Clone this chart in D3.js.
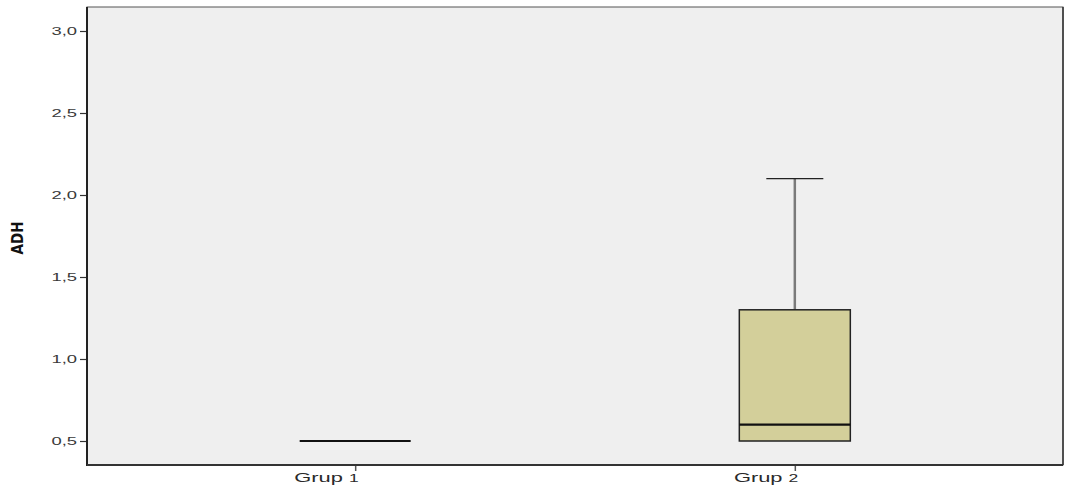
<!DOCTYPE html>
<html>
<head>
<meta charset="utf-8">
<script src="https://cdn.jsdelivr.net/npm/d3@7"></script>
<style>
  html, body { margin: 0; padding: 0; background: #ffffff; }
  svg { display: block; }
</style>
</head>
<body>
<svg id="chart" width="1067" height="493"></svg>
<script>
// Box plot summary per group: whisker low, Q1, median, Q3, whisker high
const groups = ["Grup 1", "Grup 2"];
const whiskerLow = [0.5, 0.5];
const q1 = [0.5, 0.5];
const median = [0.5, 0.6];
const q3 = [0.5, 1.3];
const whiskerHigh = [0.5, 2.1];
const yTicks = [0.5, 1.0, 1.5, 2.0, 2.5, 3.0];
const yLabel = "ADH";

const svg = d3.select("#chart");
const plot = { left: 87, top: 7, right: 1063, bottom: 465 };

const y = d3.scaleLinear()
  .domain([0.5 - 24 / 164, 3.0 + 24 / 164])
  .range([plot.bottom, plot.top]);

const x = d3.scalePoint()
  .domain(groups)
  .range([plot.left, plot.right])
  .padding(0.61);

const boxWidth = 111;
const capWidth = 57;
const labelFont = "'Liberation Sans', Arial, sans-serif";

// Plot background
svg.append("rect")
  .attr("x", plot.left).attr("y", plot.top)
  .attr("width", plot.right - plot.left).attr("height", plot.bottom - plot.top)
  .attr("fill", "#efefef")
  .attr("stroke", "#555").attr("stroke-width", 1);

// Boxes
const data = groups.map((g, i) => ({
  g, lo: whiskerLow[i], q1: q1[i], med: median[i], q3: q3[i], hi: whiskerHigh[i]
}));

const box = svg.append("g").selectAll("g").data(data).join("g");

// Whisker stems
box.filter(d => d.hi > d.q3).append("line")
  .attr("x1", d => x(d.g)).attr("x2", d => x(d.g))
  .attr("y1", d => y(d.q3)).attr("y2", d => y(d.hi))
  .attr("stroke", "#7a7a7a").attr("stroke-width", 2.5);
box.filter(d => d.lo < d.q1).append("line")
  .attr("x1", d => x(d.g)).attr("x2", d => x(d.g))
  .attr("y1", d => y(d.q1)).attr("y2", d => y(d.lo))
  .attr("stroke", "#7a7a7a").attr("stroke-width", 2.5);

// Whisker caps
box.filter(d => d.hi > d.q3).append("line")
  .attr("x1", d => x(d.g) - capWidth / 2).attr("x2", d => x(d.g) + capWidth / 2)
  .attr("y1", d => y(d.hi)).attr("y2", d => y(d.hi))
  .attr("stroke", "#222").attr("stroke-width", 1.3);
box.filter(d => d.lo < d.q1).append("line")
  .attr("x1", d => x(d.g) - capWidth / 2).attr("x2", d => x(d.g) + capWidth / 2)
  .attr("y1", d => y(d.lo)).attr("y2", d => y(d.lo))
  .attr("stroke", "#222").attr("stroke-width", 1.3);

// Interquartile boxes
box.filter(d => d.q3 > d.q1).append("rect")
  .attr("x", d => x(d.g) - boxWidth / 2)
  .attr("y", d => y(d.q3))
  .attr("width", boxWidth)
  .attr("height", d => y(d.q1) - y(d.q3))
  .attr("fill", "#d3cf9a")
  .attr("stroke", "#222").attr("stroke-width", 1.5);

// Medians
box.append("line")
  .attr("x1", d => x(d.g) - boxWidth / 2).attr("x2", d => x(d.g) + boxWidth / 2)
  .attr("y1", d => y(d.med)).attr("y2", d => y(d.med))
  .attr("stroke", "#111").attr("stroke-width", 2.2);

// Y axis (labels drawn horizontally widened)
const yStretch = 1.6;
const yAxis = svg.append("g")
  .attr("transform", `translate(${plot.left},0)`)
  .call(d3.axisLeft(y).tickValues(yTicks).tickSize(7).tickPadding(2)
    .tickFormat(d => d3.format(".1f")(d).replace(".", ",")));
yAxis.select(".domain").remove();
yAxis.selectAll(".tick line").attr("stroke", "#333").attr("stroke-width", 1.2);
yAxis.selectAll(".tick text")
  .attr("x", -10 / yStretch)
  .attr("transform", `scale(${yStretch},1)`)
  .attr("fill", "#3a3a3a")
  .style("font-family", labelFont)
  .style("font-size", "11.5px");

// X axis
const xStretch = 1.75;
const xAxis = svg.append("g")
  .attr("transform", `translate(0,${plot.bottom})`)
  .call(d3.axisBottom(x).tickSize(6).tickPadding(2));
xAxis.select(".domain").remove();
xAxis.selectAll(".tick line").attr("stroke", "#555").attr("stroke-width", 1.5);
xAxis.selectAll(".tick text").each(function (d) {
  const t = d3.select(this);
  const cut = d.lastIndexOf(" ");
  t.text(null)
    .attr("x", 3 / xStretch)
    .attr("y", 17.5)
    .attr("dy", null)
    .attr("transform", `scale(${xStretch},1)`)
    .attr("text-anchor", "end")
    .attr("fill", "#2a2a2a")
    .style("font-family", labelFont);
  t.append("tspan").style("font-size", "12.5px").text(d.slice(0, cut + 1));
  t.append("tspan").style("font-size", "10px").text(d.slice(cut + 1));
});

// Axis frame lines (left and bottom heavier)
svg.append("line")
  .attr("x1", plot.left).attr("x2", plot.left)
  .attr("y1", plot.top).attr("y2", plot.bottom + 1)
  .attr("stroke", "#222").attr("stroke-width", 2);
svg.append("line")
  .attr("x1", plot.left).attr("x2", plot.right)
  .attr("y1", plot.bottom).attr("y2", plot.bottom)
  .attr("stroke", "#333").attr("stroke-width", 2);
svg.append("line")
  .attr("x1", plot.right).attr("x2", plot.right)
  .attr("y1", plot.top).attr("y2", plot.bottom)
  .attr("stroke", "#333").attr("stroke-width", 1.5);

// Y axis title
svg.append("text")
  .attr("transform", `translate(23,${(plot.top + plot.bottom) / 2 + 2}) rotate(-90)`)
  .attr("text-anchor", "middle")
  .attr("fill", "#111")
  .style("font-family", "'Liberation Sans Narrow', 'DejaVu Sans Condensed', sans-serif")
  .style("font-weight", "bold")
  .style("font-size", "15px")
  .text(yLabel);
</script>
</body>
</html>
